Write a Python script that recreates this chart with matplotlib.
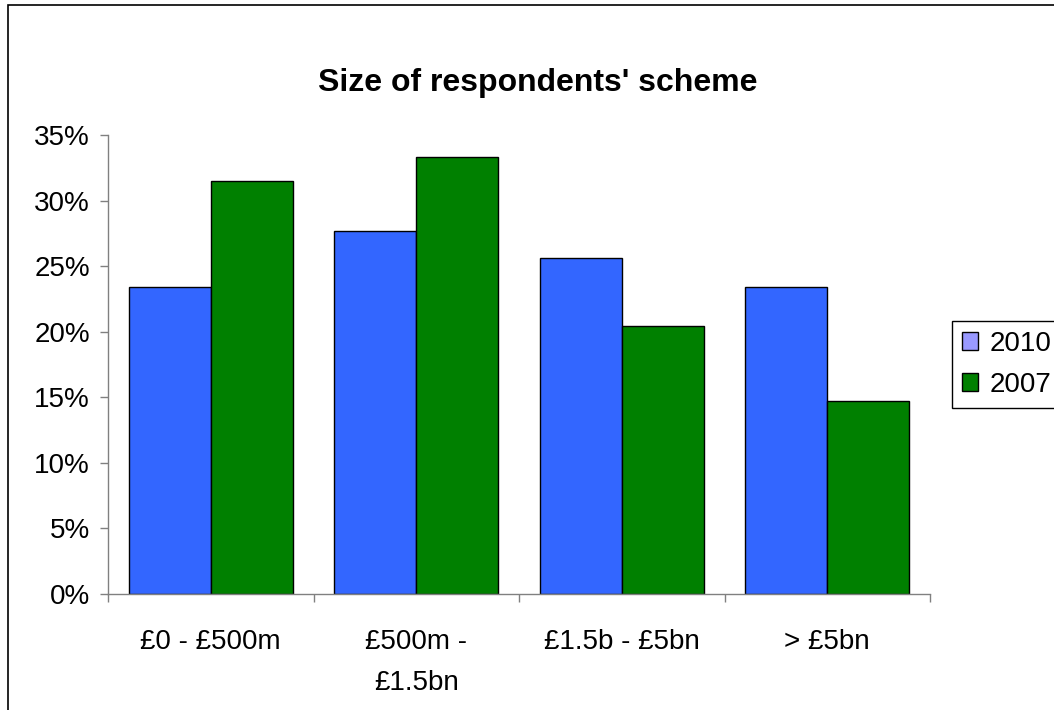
import numpy as np
import matplotlib.pyplot as plt
from matplotlib.patches import Patch, Rectangle
from matplotlib.ticker import PercentFormatter

plt.rcParams['font.family'] = ['Liberation Sans', 'DejaVu Sans']

# scheme size bands and share of respondents (%)
categories = ["£0 - £500m", "£500m -\n£1.5bn", "£1.5b - £5bn", "> £5bn"]
share_2010 = [23.4, 27.7, 25.6, 23.4]
share_2007 = [31.5, 33.3, 20.4, 14.7]
series_names = ["2010", "2007"]

bar_blue = "#3366FF"
bar_green = "#008000"
legend_blue = "#9999FF"

fig = plt.figure(figsize=(10.54, 7.10), dpi=100)
ax = fig.add_axes([108/1054, 1-594/710, (930-108)/1054, (594-135)/710])

x = np.arange(len(categories))
w = 0.4
ax.bar(x - w/2, share_2010, w, color=bar_blue, edgecolor="black", linewidth=1.0)
ax.bar(x + w/2, share_2007, w, color=bar_green, edgecolor="black", linewidth=1.0)

ax.set_xlim(-0.5, len(categories) - 0.5)
ax.set_ylim(0, 35)
ax.set_yticks(np.arange(0, 36, 5))
ax.yaxis.set_major_formatter(PercentFormatter(decimals=0))

# category ticks sit between the groups, labels at group centres
ax.set_xticks(np.arange(-0.5, len(categories)), minor=False)
ax.set_xticklabels([])
ax.set_xticks(x, minor=True)
ax.set_xticklabels(categories, minor=True, fontsize=20, linespacing=1.75)
ax.tick_params(axis="x", which="minor", length=0, pad=25)
ax.tick_params(axis="x", which="major", length=6, width=1, color="#808080", direction="out")
ax.tick_params(axis="y", length=6, width=1, color="#808080", labelsize=20, pad=7)

for side in ["top", "right"]:
    ax.spines[side].set_visible(False)
for side in ["left", "bottom"]:
    ax.spines[side].set_color("#808080")
    ax.spines[side].set_linewidth(1.0)

fig.text(538/1054, 1-83/710, "Size of respondents' scheme", ha="center", va="center",
         fontsize=23, fontweight="bold")

handles = [Patch(facecolor=legend_blue, edgecolor="black", linewidth=1.0),
           Patch(facecolor=bar_green, edgecolor="black", linewidth=1.0)]
leg = fig.legend(handles, series_names, loc="upper left",
                 bbox_to_anchor=(952/1054, 1-321/710), bbox_transform=fig.transFigure,
                 fontsize=20, frameon=True, fancybox=False, framealpha=1,
                 edgecolor="black", handlelength=0.6, handleheight=0.6,
                 handletextpad=0.4, labelspacing=0.55, borderpad=0.35, borderaxespad=0)
leg.get_frame().set_linewidth(1.0)

# chart area border
fig.add_artist(Rectangle((8/1054, -0.05), 1.1, 1.05 - 5/710, transform=fig.transFigure,
                         fill=False, edgecolor="black", linewidth=1.2, clip_on=False))

fig.savefig("out.png", dpi=100)
